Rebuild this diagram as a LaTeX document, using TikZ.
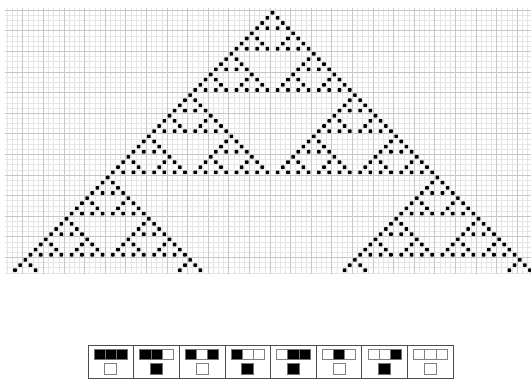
\documentclass[tikz,border=0pt]{standalone}
\newcount\na \newcount\ka \newcount\ta \newcount\tb
\newif\ifbinodd
% parity of binomial(n,k) via Lucas: odd iff every bit of k is set in n
\def\checkbin#1#2{%
  \na=#1\relax \ka=#2\relax \binoddtrue
  \loop\ifnum\ka>0
    \ta=\ka \divide\ta by 2 \multiply\ta by 2 \advance\ta by -\ka
    \tb=\na \divide\tb by 2 \multiply\tb by 2 \advance\tb by -\na
    \ifnum\ta<\tb \binoddfalse\fi
    \divide\ka by 2 \divide\na by 2
  \repeat}
\newcommand\rulecell[5]{%
  \ifnum#1=1
    \filldraw[cellon] (#2,#3) rectangle ++(#4,#5);
  \else
    \filldraw[celloff] (#2,#3) rectangle ++(#4,#5);
  \fi}
\begin{document}
\begin{tikzpicture}[x=1pt,y=-1pt,
  gridfine/.style={draw=black!10, line width=0.5pt},
  gridmajor/.style={draw=black!22, line width=0.7pt},
  cadot/.style={fill=black},
  rulebox/.style={draw=black!70, line width=0.9pt},
  cellon/.style={fill=black, draw=black!55, line width=0.8pt},
  celloff/.style={fill=white, draw=black!50, line width=0.8pt}]
\useasboundingbox (0,0) rectangle (531,380);
\fill[white] (0,0) rectangle (531,380);
% grid
\begin{scope}
  \clip (5,8) rectangle (531,274);
  \foreach \i in {-52,...,52} {\draw[gridfine] ({269.925+5.15*\i},8) -- ++(0,266);}
  \foreach \j in {-1,...,51} {\draw[gridfine] (5,{10.125+5.15*\j}) -- ++(526,0);}
  \foreach \i in {-52,-48,...,52} {\draw[gridmajor] ({269.925+5.15*\i},8) -- ++(0,266);}
  \foreach \j in {0,4,...,48} {\draw[gridmajor] (5,{10.125+5.15*\j}) -- ++(526,0);}
\end{scope}
% rule 90 evolution
\foreach \n in {0,...,50} {
  \foreach \k in {0,...,\n} {
    \checkbin{\n}{\k}%
    \ifbinodd
      \fill[cadot, rounded corners=0.6pt] ({272.5+5.15*(2*\k-\n)-1.8},{12.7+5.15*\n-1.8}) rectangle ++(3.6,3.6);
    \fi
  }
}
% rule icons
\foreach \a/\b/\c/\r [count=\i from 0] in {1/1/1/0,1/1/0/1,1/0/1/0,1/0/0/1,0/1/1/1,0/1/0/0,0/0/1/1,0/0/0/0} {
  \pgfmathsetmacro\bx{88+45.65*\i}
  \pgfmathsetmacro\cx{\bx+22.825}
  \draw[rulebox] (\bx,345) rectangle ++(45.65,33.5);
  \rulecell{\a}{\cx-16.7}{349.5}{11.13}{10}
  \rulecell{\b}{\cx-5.57}{349.5}{11.13}{10}
  \rulecell{\c}{\cx+5.57}{349.5}{11.13}{10}
  \rulecell{\r}{\cx-6}{363.5}{12}{11}
}
\end{tikzpicture}
\end{document}
